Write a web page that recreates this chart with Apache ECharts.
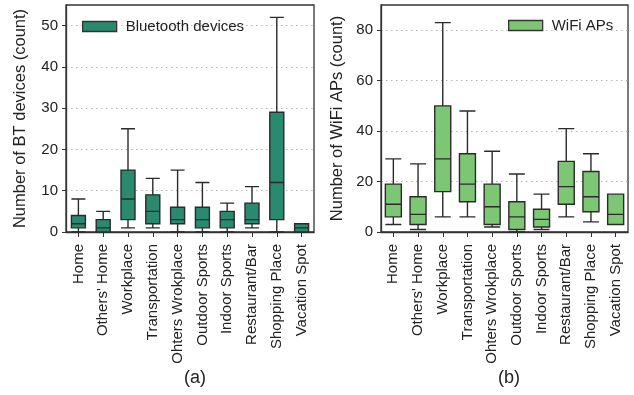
<!DOCTYPE html>
<html>
<head>
<meta charset="utf-8">
<script src="https://cdn.jsdelivr.net/npm/echarts@6/dist/echarts.min.js"></script>
<style>
html,body{margin:0;padding:0;background:#fff;}
#c{width:634px;height:395px;}
</style>
</head>
<body>
<div id="c"></div>
<script>
var categories = ["Home", "Others' Home", "Workplace", "Transportation", "Ohters Wrokplace", "Outdoor Sports", "Indoor Sports", "Restaurant/Bar", "Shopping Place", "Vacation Spot"];

// Bluetooth devices (count)
var btMin    = [0, 0, 1, 1, 0, 0, 0, 1, 0, 0];
var btQ1     = [1, 0, 3, 2, 2, 1, 1, 2, 3, 0];
var btMedian = [2, 1, 8, 5, 3, 3, 3, 3, 12, 1];
var btQ3     = [4, 3, 15, 9, 6, 6, 5, 7, 29, 2];
var btMax    = [8, 5, 25, 13, 15, 12, 7, 11, 52, 2];

// WiFi APs (count)
var wifiMin    = [3, 1, 6, 6, 2, 0, 1, 6, 4, 3];
var wifiQ1     = [6, 3, 16, 12, 3, 1, 2, 11, 8, 3];
var wifiMedian = [11, 7, 29, 19, 10, 6, 5, 18, 14, 7];
var wifiQ3     = [19, 14, 50, 31, 19, 12, 9, 28, 24, 15];
var wifiMax    = [29, 27, 83, 48, 32, 23, 15, 41, 31, 15];

var btTicks = [0, 10, 20, 30, 40, 50];
var wifiTicks = [0, 20, 40, 60, 80];

function build(mn, q1, md, q3, mx) {
  return categories.map(function (c, i) { return [mn[i], q1[i], md[i], q3[i], mx[i]]; });
}
var btData = build(btMin, btQ1, btMedian, btQ3, btMax);
var wifiData = build(wifiMin, wifiQ1, wifiMedian, wifiQ3, wifiMax);

var FONT = "'Liberation Sans', Arial, sans-serif";
var TXT = '#222';
var FRAME = '#333';
var BT_COLOR = '#2a8a6f';
var WIFI_COLOR = '#7dc674';

function xAxisCfg(gi) {
  return {
    type: 'category', gridIndex: gi, data: categories,
    axisLine: { show: true, lineStyle: { color: FRAME, width: 1.3 } },
    axisTick: { show: true, alignWithLabel: true, length: 5, lineStyle: { color: FRAME } },
    axisLabel: { rotate: 90, margin: 12, fontSize: 15, color: TXT, fontFamily: FONT, interval: 0 },
    splitLine: { show: false }
  };
}
function yAxisCfg(gi, max, interval, ticks, name, gap) {
  return {
    type: 'value', gridIndex: gi, min: 0, max: max, interval: interval,
    name: name, nameLocation: 'middle', nameGap: gap,
    nameTextStyle: { fontSize: 16.5, color: TXT, fontFamily: FONT },
    axisLine: { show: true, lineStyle: { color: FRAME, width: 1.3 } },
    axisTick: { show: true, length: 4, customValues: ticks, lineStyle: { color: FRAME } },
    axisLabel: { fontSize: 15, color: TXT, fontFamily: FONT, margin: 8, customValues: ticks },
    splitLine: { show: true, lineStyle: { color: '#b5b5b5', type: [1.5, 3.5], width: 1 } }
  };
}

var chart = echarts.init(document.getElementById('c'), null, { renderer: 'canvas' });
chart.setOption({
  animation: false,
  backgroundColor: '#fff',
  textStyle: { fontFamily: FONT },
  grid: [
    { left: 66, right: 320, top: 5, bottom: 163, show: true, borderColor: FRAME, borderWidth: 1.3, backgroundColor: 'transparent' },
    { left: 381, right: 6, top: 5, bottom: 163, show: true, borderColor: FRAME, borderWidth: 1.3, backgroundColor: 'transparent' }
  ],
  legend: [
    { data: [{ name: 'Bluetooth devices', icon: 'rect' }], left: 82, top: 19, padding: 0, itemWidth: 34, itemHeight: 10,
      textStyle: { fontSize: 15, color: TXT, fontFamily: FONT, padding: [0, 0, 0, 4] },
      itemStyle: { color: BT_COLOR, borderColor: FRAME, borderWidth: 1.3 } },
    { data: [{ name: 'WiFi APs', icon: 'rect' }], left: 508, top: 18, padding: 0, itemWidth: 34, itemHeight: 10,
      textStyle: { fontSize: 15, color: TXT, fontFamily: FONT, padding: [0, 0, 0, 4] },
      itemStyle: { color: WIFI_COLOR, borderColor: FRAME, borderWidth: 1.3 } }
  ],
  xAxis: [xAxisCfg(0), xAxisCfg(1)],
  yAxis: [
    yAxisCfg(0, 55, 10, btTicks, 'Number of BT devices (count)', 37),
    yAxisCfg(1, 90, 20, wifiTicks, 'Number of WiFi APs (count)', 35)
  ],
  title: [
    { text: '(a)', left: 190, top: 364, textAlign: 'center', textStyle: { fontSize: 18, fontWeight: 'normal', color: TXT, fontFamily: FONT } },
    { text: '(b)', left: 504, top: 364, textAlign: 'center', textStyle: { fontSize: 18, fontWeight: 'normal', color: TXT, fontFamily: FONT } }
  ],
  series: [
    { name: 'Bluetooth devices', type: 'boxplot', xAxisIndex: 0, yAxisIndex: 0, data: btData,
      boxWidth: [14, 14],
      itemStyle: { color: BT_COLOR, borderColor: '#2b2b2b', borderWidth: 1.4 } },
    { name: 'WiFi APs', type: 'boxplot', xAxisIndex: 1, yAxisIndex: 1, data: wifiData,
      boxWidth: [16, 16],
      itemStyle: { color: WIFI_COLOR, borderColor: '#2b2b2b', borderWidth: 1.4 } }
  ]
});
</script>
</body>
</html>
